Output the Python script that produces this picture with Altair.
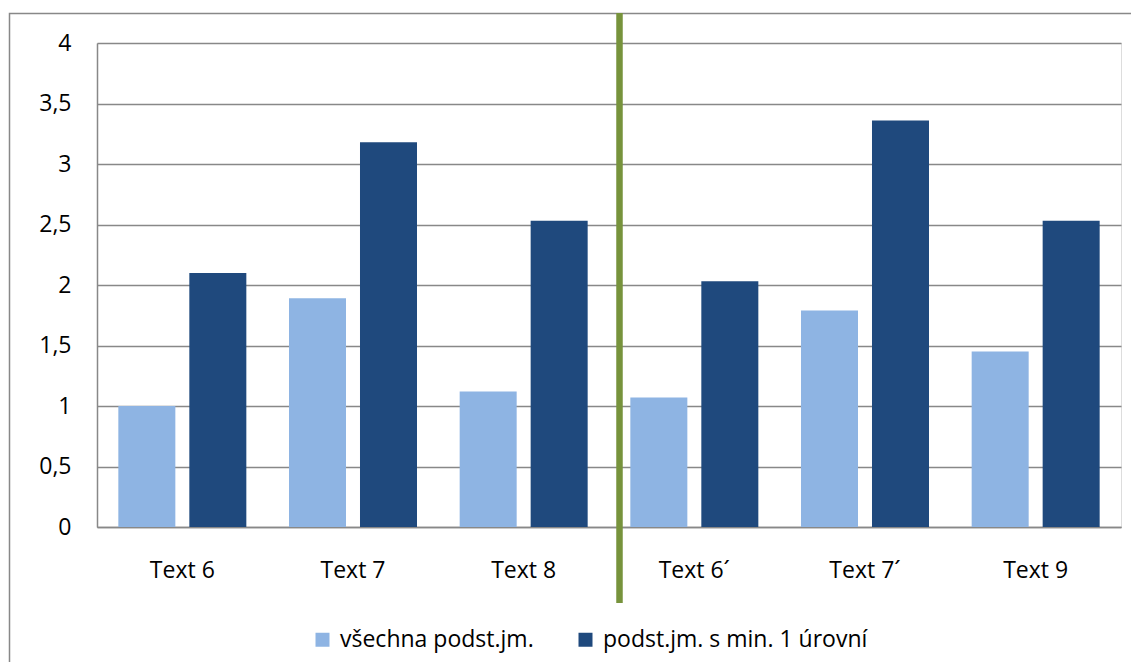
import altair as alt
import pandas as pd

categories = ["Text 6", "Text 7", "Text 8", "Text 6´", "Text 7´", "Text 9"]
series_names = ["všechna podst.jm.", "podst.jm. s min. 1 úrovní"]
all_units = [1.0, 1.89, 1.12, 1.07, 1.79, 1.45]
min_one_level = [2.10, 3.18, 2.53, 2.03, 3.36, 2.53]
y_ticks = [0, 0.5, 1, 1.5, 2, 2.5, 3, 3.5, 4]
colors = ["#8EB4E3", "#1F497D"]

rows = []
for c, a, b in zip(categories, all_units, min_one_level):
    rows.append({"cat": c, "series": series_names[0], "value": a})
    rows.append({"cat": c, "series": series_names[1], "value": b})
df = pd.DataFrame(rows)

FONT = "Open Sans"
FS = 23
W, H = 1024, 484

bars = alt.Chart(df).mark_bar().encode(
    x=alt.X("cat:N", sort=categories, title=None,
            scale=alt.Scale(paddingInner=0.25, paddingOuter=0.125),
            axis=alt.Axis(labelAngle=0, ticks=False, labelPadding=32,
                          labelFont=FONT, labelFontSize=FS, labelColor="#000000",
                          domainColor="#888888", domainWidth=1.5, grid=False)),
    xOffset=alt.XOffset("series:N", sort=series_names,
                        scale=alt.Scale(paddingInner=0.197, paddingOuter=0)),
    y=alt.Y("value:Q", title=None,
            scale=alt.Scale(domain=[0, 4], nice=False),
            axis=alt.Axis(values=y_ticks, ticks=False, labelPadding=26,
                          labelExpr="replace(format(datum.value, '.1~f'), '.', ',')",
                          labelFont=FONT, labelFontSize=FS, labelColor="#000000",
                          domainColor="#888888", domainWidth=1.5,
                          grid=True, gridColor="#888888", gridWidth=1.5)),
    color=alt.Color("series:N", sort=series_names,
                    scale=alt.Scale(domain=series_names, range=colors),
                    legend=alt.Legend(title=None, orient="none", direction="horizontal",
                                      legendX=214, legendY=585, padding=0,
                                      symbolType="square", symbolSize=196,
                                      symbolStrokeWidth=0, labelOffset=6,
                                      columnPadding=40, labelLimit=500,
                                      labelFont=FONT, labelFontSize=FS,
                                      labelColor="#000000")),
)

divider = alt.Chart(alt.Data(values=[{"k": 1}])).mark_rule(
    color="#77933C", strokeWidth=6.5
).encode(x=alt.value(522.5), y=alt.value(-30), y2=alt.value(560))

frame = alt.Chart(alt.Data(values=[{"k": 1}])).mark_rect(
    fill=None, fillOpacity=0, stroke="#888888", strokeWidth=1.5
).encode(x=alt.value(-87.5), x2=alt.value(1046), y=alt.value(-29.5), y2=alt.value(632))

chart = alt.layer(frame, bars, divider).properties(
    width=W, height=H,
    autosize=alt.AutoSizeParams(type="none"),
    padding={"left": 89, "top": 35, "right": 10, "bottom": 135},
).configure_view(stroke=None).configure(background="#ffffff")

chart.save("out.html", embed_options={"renderer": "svg", "actions": False})
